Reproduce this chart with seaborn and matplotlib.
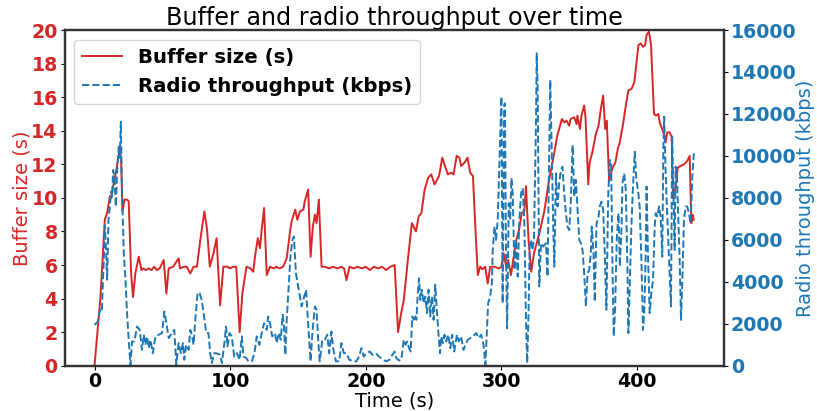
import pandas as pd
import matplotlib
matplotlib.use("Agg")
import matplotlib.pyplot as plt
import seaborn as sns

# buffer level
buffer_t = [0, 4.4, 7.6, 9.3, 11.3, 12.3, 14.2, 16.2, 18.6, 19.6,
            20.6, 22.1, 24, 25.2, 27, 28.4, 30.1, 32.6, 34.6, 36,
            38, 40, 42, 44, 46, 48, 51, 53, 54.7, 58,
            62, 63, 66, 68, 70.6, 73, 75.5, 78, 81, 83,
            85, 87.7, 90, 92.6, 95, 98, 100, 102, 104.5, 107,
            109, 112, 115, 117, 118.5, 120.4, 122, 123, 125, 127,
            129.4, 132, 134, 136.5, 139, 141.7, 144, 145.3, 148, 149.5,
            151.5, 154, 155, 157.5, 159.3, 161, 162.5, 163.7, 165.4, 167.4,
            170, 173, 176, 179, 182, 184, 185.8, 188, 191, 194,
            197, 200, 203, 206, 209, 212, 215, 218, 221.3, 223.8,
            226, 228, 231, 234, 237, 239, 241, 243.4, 246, 248.3,
            250.7, 254, 256.4, 258, 260.5, 263, 264.7, 267, 269, 270.3,
            272.8, 275, 277, 279, 281, 282.6, 284.3, 286, 288, 289.9,
            291.7, 295, 298, 300, 301.6, 303.6, 305, 307, 308.3, 311,
            313, 315, 316.9, 318.1, 320, 322, 324, 328, 331.6, 335,
            339, 341, 344.6, 346.3, 348, 350, 351, 353.7, 355.4, 356,
            357.9, 359, 361, 362, 364, 365, 367, 369.6, 371.6, 373.3,
            375, 376.5, 377.7, 379.4, 380.6, 382, 384, 386, 387, 389.7,
            391.7, 393.6, 396, 398, 399.5, 401, 402.7, 404.4, 406, 407,
            408.8, 410.3, 412.5, 414, 415.7, 416.7, 418, 420, 421, 422.2,
            424, 425.5, 426.5, 428, 430, 432, 434.6, 437, 438.8, 440,
            441, 441.8]
buffer_s = [0, 4.1, 8.7, 9.1, 10.1, 10.0, 10.9, 11.7, 13.0, 12.3,
            9.2, 9.9, 9.9, 9.8, 5.5, 4.1, 5.5, 6.5, 5.7, 5.8,
            5.7, 5.8, 5.7, 5.9, 5.7, 5.8, 6.3, 4.3, 5.8, 5.9,
            6.4, 5.8, 5.9, 5.9, 5.5, 5.9, 5.9, 7.5, 9.2, 8.1,
            5.9, 6.7, 7.6, 3.6, 5.9, 5.9, 5.8, 5.9, 5.9, 2.0,
            4.3, 5.9, 5.8, 5.6, 6.6, 7.6, 7.0, 7.9, 9.4, 5.4,
            5.9, 5.8, 5.9, 5.8, 5.9, 6.4, 7.9, 8.6, 9.3, 8.7,
            9.2, 9.3, 9.8, 10.5, 6.5, 8.3, 9.0, 8.5, 9.9, 5.9,
            5.9, 5.8, 5.9, 5.8, 5.9, 5.8, 5.1, 5.9, 5.8, 5.9,
            5.8, 5.9, 5.7, 5.9, 5.8, 5.9, 5.7, 5.9, 6.0, 2.0,
            3.1, 3.9, 6.3, 8.5, 8.0, 8.9, 9.1, 10.5, 11.2, 11.4,
            10.8, 11.3, 12.4, 12.0, 11.4, 11.5, 11.4, 12.5, 12.4, 11.9,
            12.1, 12.4, 11.5, 11.3, 7.9, 5.4, 5.9, 5.75, 5.9, 4.9,
            5.9, 5.9, 5.8, 5.9, 6.7, 5.9, 6.3, 5.4, 6.1, 7.5,
            8.1, 9.1, 9.2, 10.7, 7.5, 5.6, 6.7, 7.9, 9.2, 11.0,
            12.7, 13.65, 14.7, 14.5, 14.6, 14.3, 14.7, 14.8, 14.4, 14.9,
            14.1, 14.9, 15.5, 14.8, 10.8, 12.1, 12.7, 13.8, 14.3, 15.3,
            16.1, 14.1, 14.6, 11.0, 11.4, 11.8, 12.1, 13.0, 13.2, 14.4,
            15.5, 16.4, 16.5, 16.9, 18.0, 19.1, 19.2, 19.0, 19.1, 19.7,
            19.9, 19.1, 15.0, 14.9, 15.0, 14.5, 14.2, 13.8, 13.3, 13.9,
            13.9, 13.65, 10.0, 10.4, 11.8, 11.9, 12.0, 12.2, 12.5, 8.5,
            9.0, 8.7]

# radio throughput
radio_t = [0, 2.5, 4, 5.4, 7, 7.6, 8.6, 9.3, 10.3, 11.3,
           12.3, 13, 13.7, 14.7, 15.7, 16.7, 17.9, 18.6, 19.4, 20.3,
           21.6, 22.8, 24, 25.2, 26.5, 27.7, 29.4, 31.4, 33.3, 35,
           36.3, 37.5, 38.7, 40, 41.2, 43, 44.9, 47.3, 49.8, 51.5,
           53, 54.7, 57, 58.8, 60.3, 62, 63.7, 65.2, 66.2, 67.6,
           69.4, 70.6, 71.8, 73, 74.3, 76, 77.5, 79, 80.4, 82.4,
           84, 85.3, 86.5, 88.2, 89.7, 92.6, 93.9, 95.6, 97, 98,
           99.5, 101.2, 103, 105, 107, 108.6, 109.8, 111.8, 113.5, 116,
           117.9, 119.6, 121.6, 123.3, 125, 127, 128, 129.4, 131, 133,
           134.3, 135.8, 137.3, 138.7, 139.7, 140.7, 141.7, 143, 144.6, 146,
           147, 148.5, 149.7, 151, 152.7, 153.9, 156, 157, 158.3, 159.3,
           160.8, 162.5, 163.7, 164.9, 166, 168, 169.8, 171.6, 173, 174.7,
           175.9, 178, 180.4, 182, 183.8, 185.8, 187.8, 190.7, 193, 195,
           196.8, 198.5, 200.5, 203, 204.9, 207.4, 209.8, 212.8, 215, 217.6,
           219.6, 221.3, 222.5, 224.5, 226.2, 228, 229.4, 230.4, 231.9, 233.1,
           234.3, 235.3, 236.3, 237.3, 238.2, 239.2, 240.2, 241.4, 242.6, 243.9,
           245.1, 246.3, 247.5, 248.8, 250, 251.2, 252.5, 253.9, 254.7, 255.6,
           256.9, 258, 259.3, 260.8, 262.3, 263.7, 265.2, 267.2, 268.6, 270.3,
           272, 273.5, 275.2, 277, 279, 281.4, 283.3, 285.1, 286.8, 288.2,
           289.2, 290.2, 291.7, 293, 293.6, 294.9, 296, 297.3, 298.5, 300,
           300.9, 302, 302.6, 303.4, 304.2, 305.4, 306.4, 307.4, 308.3, 309.6,
           310.8, 312, 313.2, 314.5, 315.7, 316.9, 318.1, 319, 320, 320.8,
           321.8, 322.8, 324, 325.5, 326, 326.7, 327.9, 329.2, 330.9, 332.8,
           334, 334.8, 336, 337.3, 338.2, 339, 340.2, 341.4, 342.6, 343.9,
           345, 346.3, 347.5, 348.7, 350, 351, 352.5, 353.7, 354.9, 356,
           357.4, 358.6, 359.8, 361, 362.3, 363.5, 364.7, 365.9, 366.6, 367.9,
           368.8, 370.1, 371.6, 372.5, 373.8, 375, 376.2, 377.4, 378.7, 379.9,
           380.9, 381.9, 382.8, 383.8, 385, 386.3, 387.3, 388.5, 389.2, 390.5,
           391.7, 392.9, 393.6, 394.6, 395.8, 397, 398.3, 399.5, 400.7, 401.9,
           403.2, 404.4, 405.4, 406.4, 407, 408, 409.3, 410.5, 411.8, 413,
           413.7, 415, 416.2, 417.4, 418.6, 419.4, 420, 421, 422, 423,
           424, 425, 425.9, 427, 427.7, 428.4, 429.4, 430.4, 431.4, 432.4,
           433.3, 434.6, 435.8, 437, 438.2, 439.5, 440.7, 441.9]
radio_kbps = [1950, 2110, 2670, 2590, 5360, 6710, 5360, 4100, 6950, 7590,
              8300, 8060, 9330, 9010, 7590, 9330, 10440, 9810, 11630, 8220,
              5360, 4100, 2510, 1240, 50, 1160, 1160, 1870, 1710, 760,
              1480, 1000, 1400, 840, 1240, 600, 1400, 1480, 1560, 2590,
              2030, 1320, 1560, 1710, 50, 1080, 600, 1080, 290, 1000,
              760, 1710, 1480, 1000, 2190, 3490, 3460, 3140, 2510, 1560,
              1560, 600, 130, 600, 600, 520, 130, 1000, 1870, 920,
              1560, 1400, 440, 600, 290, 1400, 440, 370, 210, 210,
              600, 1400, 1000, 1560, 2030, 1710, 2350, 2030, 1400, 1560,
              1080, 1560, 1240, 2430, 1870, 520, 2190, 3620, 5360, 6000,
              6160, 4410, 3940, 3460, 2830, 3140, 3620, 2510, 1240, 210,
              1710, 2830, 2670, 1240, 210, 1240, 1240, 1480, 600, 1630,
              840, 210, 210, 1080, 600, 600, 290, 210, 210, 440,
              840, 440, 600, 680, 520, 600, 440, 290, 210, 290,
              520, 680, 370, 250, 290, 1240, 1000, 1160, 840, 680,
              2350, 2190, 2430, 2190, 3300, 4170, 3140, 3620, 2980, 3300,
              2510, 3620, 2350, 3300, 2190, 3860, 2510, 1240, 600, 1400,
              1080, 1480, 1160, 1480, 840, 1480, 680, 1480, 1160, 1400,
              760, 1000, 1240, 1320, 1400, 1560, 1320, 1480, 1000, 50,
              1560, 2980, 3300, 3940, 5520, 6630, 6000, 6950, 9650, 12820,
              2980, 12430, 12510, 5360, 1790, 7740, 6950, 8940, 8220, 4570,
              6000, 4250, 6950, 8220, 8460, 6790, 2190, 130, 2510, 5680,
              6000, 5520, 6000, 11710, 14890, 13300, 3780, 5840, 5680, 5840,
              4250, 8220, 13620, 9650, 6630, 4730, 9170, 7590, 8700, 9330,
              9490, 8220, 7270, 6630, 6470, 7590, 10520, 8060, 8860, 7590,
              6000, 5840, 5520, 4410, 2830, 4410, 4570, 5360, 6630, 5360,
              3060, 6790, 7110, 7590, 7820, 7430, 5360, 2670, 8060, 9810,
              9650, 4570, 1400, 2670, 6000, 7270, 4730, 6470, 8700, 9170,
              8380, 4730, 1560, 3780, 6630, 8540, 10200, 8860, 8380, 7590,
              5050, 1710, 2670, 5360, 8540, 5360, 2510, 3460, 4100, 6630,
              7270, 7110, 7590, 7110, 5200, 10440, 11870, 9330, 7590, 6000,
              4410, 2830, 10920, 7740, 5520, 9490, 9010, 6950, 5050, 2190,
              3940, 6950, 7590, 7590, 7270, 6790, 9010, 10120]

assert len(buffer_t) == len(buffer_s)
assert len(radio_t) == len(radio_kbps)

buf = pd.DataFrame({"t": buffer_t, "v": buffer_s})
radio = pd.DataFrame({"t": radio_t, "v": radio_kbps})

red = "tab:red"
blue = "tab:blue"

fig, ax = plt.subplots(figsize=(8.17, 4.11), dpi=100)
fig.subplots_adjust(left=0.079, right=0.886, top=0.927, bottom=0.11)
ax2 = ax.twinx()

sns.lineplot(data=buf, x="t", y="v", ax=ax, color=red, linewidth=1.4,
             sort=False, estimator=None, label="Buffer size (s)")
sns.lineplot(data=radio, x="t", y="v", ax=ax2, color=blue, linewidth=1.4,
             sort=False, estimator=None, linestyle="--",
             label="Radio throughput (kbps)")

ax.set_ylim(0, 20)
ax.set_yticks(range(0, 21, 2))
ax2.set_ylim(0, 16000)
ax2.set_yticks(range(0, 16001, 2000))

ax.set_xlabel("Time (s)", fontsize=14, labelpad=0)
ax.set_ylabel("Buffer size (s)", fontsize=14, color=red, labelpad=-0.5)
ax2.set_ylabel("Radio throughput (kbps)", fontsize=14, color=blue, labelpad=-0.5)
ax.set_title("Buffer and radio throughput over time", fontsize=17.2, pad=3)

ax.tick_params(axis="x", labelsize=13.7, pad=1.5, length=3)
ax.tick_params(axis="y", labelsize=13.7, labelcolor=red, pad=2, length=3)
ax2.tick_params(axis="y", labelsize=13.7, labelcolor=blue, pad=2, length=3)
for lab in ax.get_xticklabels() + ax.get_yticklabels() + ax2.get_yticklabels():
    lab.set_fontweight("bold")

for a in (ax, ax2):
    for sp in a.spines.values():
        sp.set_linewidth(1.6)
        sp.set_color("#333333")

h1, l1 = ax.get_legend_handles_labels()
h2, l2 = ax2.get_legend_handles_labels()
ax.get_legend().remove()
ax2.get_legend().remove()
ax2.legend(h1 + h2, l1 + l2, loc="upper left",
           prop={"weight": "bold", "size": 14.2})

fig.savefig("out.png")
